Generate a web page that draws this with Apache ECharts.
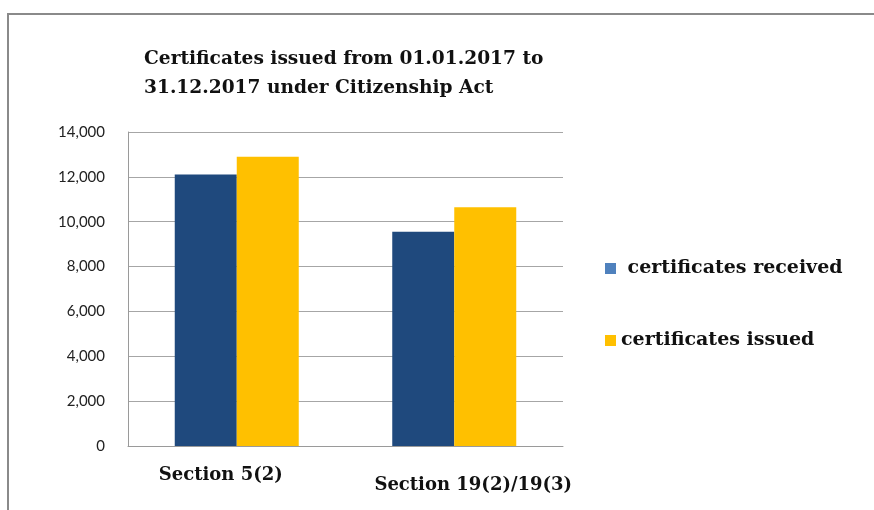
<!DOCTYPE html>
<html>
<head>
<meta charset="utf-8">
<script src="https://cdn.jsdelivr.net/npm/echarts@6/dist/echarts.min.js"></script>
<style>
  html, body { margin: 0; padding: 0; background: #fff; }
  #chart { width: 874px; height: 510px; }
</style>
</head>
<body>
<div id="chart"></div>
<script>
// Certificates under the Citizenship Act, 2017
const categories = ['Section 5(2)', 'Section 19(2)/19(3)'];
const seriesNames = [' certificates received', 'certificates issued'];
const received = [12100, 9550];
const issued = [12900, 10650];
const yTicks = [0, 2000, 4000, 6000, 8000, 10000, 12000, 14000];

const serif = '"DejaVu Serif", serif';
const chart = echarts.init(document.getElementById('chart'));

chart.setOption({
  animation: false,
  title: {
    text: 'Certificates issued from 01.01.2017 to\n31.12.2017 under Citizenship Act',
    left: 139,
    top: 40,
    textStyle: { fontFamily: serif, fontWeight: 'bold', fontSize: 18.6, lineHeight: 29, color: '#111' }
  },
  graphic: [{
    type: 'rect',
    shape: { x: 8, y: 14, width: 900, height: 600 },
    style: { fill: 'none', stroke: '#8a8a8a', lineWidth: 2 },
    silent: true
  }],
  legend: {
    orient: 'vertical',
    left: 600,
    top: 254,
    itemWidth: 11,
    itemHeight: 11,
    itemGap: 53,
    icon: 'rect',
    data: [
      { name: seriesNames[0], itemStyle: { color: '#4f81bd' } },
      { name: seriesNames[1], itemStyle: { color: '#ffc000' } }
    ],
    textStyle: { fontFamily: serif, fontWeight: 'bold', fontSize: 19, color: '#111' }
  },
  grid: { left: 128, right: 311, top: 132, bottom: 64, containLabel: false },
  xAxis: {
    type: 'category',
    data: [
      { value: categories[0], textStyle: { padding: [0, 32, 0, 0] } },
      { value: categories[1], textStyle: { padding: [10, 0, 0, 38] } }
    ],
    axisLine: { show: true, lineStyle: { color: '#9a9a9a', width: 1 } },
    axisTick: { show: false },
    axisLabel: {
      interval: 0,
      hideOverlap: false,
      margin: 20,
      fontFamily: serif,
      fontWeight: 'bold',
      fontSize: 18,
      color: '#111'
    }
  },
  yAxis: {
    type: 'value',
    min: yTicks[0],
    max: yTicks[yTicks.length - 1],
    interval: 2000,
    axisLine: { show: true, lineStyle: { color: '#9a9a9a', width: 1 } },
    axisTick: { show: false },
    splitLine: { lineStyle: { color: '#a6a6a6', width: 1 } },
    axisLabel: {
      margin: 23,
      fontFamily: 'Lato, "Liberation Sans", sans-serif',
      fontSize: 15,
      color: '#222',
      formatter: v => v.toLocaleString('en-US')
    }
  },
  series: [
    {
      name: seriesNames[0],
      type: 'bar',
      data: received,
      barWidth: 62,
      barGap: '0%',
      itemStyle: { color: '#1f497d' }
    },
    {
      name: seriesNames[1],
      type: 'bar',
      data: issued,
      barWidth: 62,
      barGap: '0%',
      itemStyle: { color: '#ffc000' }
    }
  ]
});
</script>
</body>
</html>
